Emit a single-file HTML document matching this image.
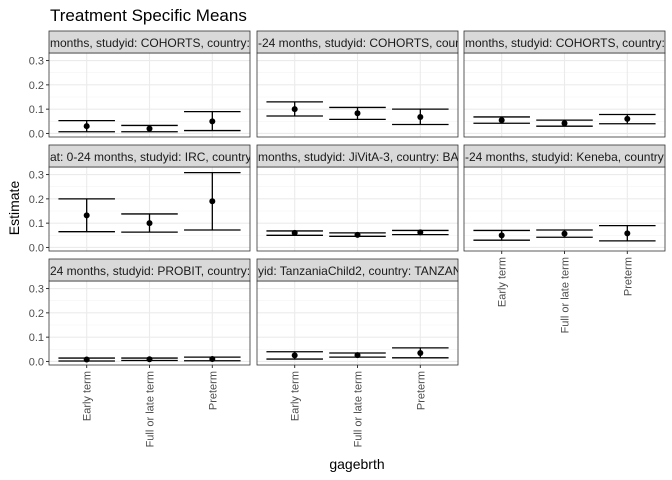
<!DOCTYPE html>
<html><head><meta charset="utf-8"><style>
body{margin:0;background:#fff;}
svg{display:block;font-family:"Liberation Sans",sans-serif;}
</style></head><body>
<svg id="c" width="672" height="480"></svg>
<script>
const categories=["Early term","Full or late term","Preterm"];
const stripLabels=["months, studyid: COHORTS, country: GUATEMALA","-24 months, studyid: COHORTS, country: INDIA","months, studyid: COHORTS, country: PHILIPPINES","at: 0-24 months, studyid: IRC, country: INDIA","months, studyid: JiVitA-3, country: BANGLADESH","-24 months, studyid: Keneba, country: GAMBIA","24 months, studyid: PROBIT, country: BELARUS","yid: TanzaniaChild2, country: TANZANIA"];
const est=[[0.03,0.02,0.05],[0.10,0.083,0.068],[0.055,0.042,0.06],[0.132,0.10,0.19],[0.06,0.052,0.062],[0.05,0.057,0.058],[0.008,0.009,0.01],[0.025,0.026,0.035]];
const lower=[[0.007,0.007,0.012],[0.072,0.058,0.037],[0.042,0.03,0.04],[0.065,0.063,0.072],[0.05,0.046,0.053],[0.03,0.042,0.027],[0.002,0.004,0.003],[0.01,0.018,0.015]];
const upper=[[0.053,0.033,0.09],[0.13,0.107,0.10],[0.068,0.055,0.078],[0.2,0.138,0.308],[0.068,0.06,0.07],[0.07,0.072,0.09],[0.014,0.014,0.018],[0.04,0.035,0.056]];
const yTicks=[0,0.1,0.2,0.3];
const yTickLabels=["0.0","0.1","0.2","0.3"];

const NS="http://www.w3.org/2000/svg";
const svg=document.getElementById('c');
function mk(t,a,p){const e=document.createElementNS(NS,t);for(const k in a)e.setAttribute(k,a[k]);(p||svg).appendChild(e);return e;}
const colX=[49,257,464], rowY=[53,167,281], PW=201, PH=84, SH=22;
const ymin=-0.0145,ymax=0.331;
function sy(r,v){return rowY[r]+PH-(v-ymin)/(ymax-ymin)*PH;}
function sx(c,i){return colX[c]+(i+1-0.4)/3.2*PW;}
const defs=mk('defs',{});
let t=mk('text',{x:50,y:21,'font-size':17,fill:'#000'});t.textContent="Treatment Specific Means";


for(let p=0;p<8;p++){
  const r=Math.floor(p/3),c=p%3;
  const g=mk('g',{});
  
  
  const x0=colX[c],y0=rowY[r];
  mk('rect',{x:x0,y:y0,width:PW,height:PH,fill:'#fff'},g);
  for(let k=0;k<yTicks.length;k++){
    mk('line',{x1:x0,x2:x0+PW,y1:sy(r,yTicks[k]),y2:sy(r,yTicks[k]),stroke:'#ebebeb','stroke-width':1.1},g);
    if(k<3)mk('line',{x1:x0,x2:x0+PW,y1:sy(r,yTicks[k]+0.05),y2:sy(r,yTicks[k]+0.05),stroke:'#f3f3f3','stroke-width':0.6},g);
  }
  for(let i=0;i<3;i++)mk('line',{x1:sx(c,i),x2:sx(c,i),y1:y0,y2:y0+PH,stroke:'#ebebeb','stroke-width':1.1},g);
  for(let i=0;i<3;i++){
    const bw=0.9/3.2*PW/2, cx=sx(c,i);
    const eb=mk('g',{stroke:'#000','stroke-width':1.3},g);
    
    
    mk('line',{x1:cx-bw,x2:cx+bw,y1:sy(r,upper[p][i]),y2:sy(r,upper[p][i])},eb);
    mk('line',{x1:cx-bw,x2:cx+bw,y1:sy(r,lower[p][i]),y2:sy(r,lower[p][i])},eb);
    mk('line',{x1:cx,x2:cx,y1:sy(r,upper[p][i]),y2:sy(r,lower[p][i])},eb);
    const pt=mk('circle',{cx:cx,cy:sy(r,est[p][i]),r:3,fill:'#000'},g);
    
    
  }
  mk('rect',{x:x0,y:y0,width:PW,height:PH,fill:'none',stroke:'#333','stroke-width':0.8},g);
  const cp=mk('clipPath',{id:'cp'+p},defs);mk('rect',{x:x0,y:y0-SH,width:PW,height:SH},cp);
  mk('rect',{x:x0,y:y0-SH,width:PW,height:SH,fill:'#d9d9d9',stroke:'#333','stroke-width':0.8},g);
  const st=mk('text',{x:x0+1,y:y0-6,'font-size':12,fill:'#1a1a1a','clip-path':'url(#cp'+p+')'},g);
  st.textContent=stripLabels[p];
  
  
  if(c===0){
    for(let k=0;k<yTicks.length;k++){
      const yy=sy(r,yTicks[k]);
      mk('line',{x1:x0-3,x2:x0,y1:yy,y2:yy,stroke:'#333'},svg);
      const tl=mk('text',{x:x0-5,y:yy+4,'font-size':11,fill:'#4d4d4d','text-anchor':'end'});
      tl.textContent=yTickLabels[k];
      
      
    }
  }
  if(p>=5){
    for(let i=0;i<3;i++){
      const cx=sx(c,i),yb=y0+PH;
      mk('line',{x1:cx,x2:cx,y1:yb,y2:yb+3,stroke:'#333'},svg);
      const xl=mk('text',{x:0,y:0,'font-size':11,fill:'#4d4d4d','text-anchor':'end',transform:`translate(${cx+4},${yb+6}) rotate(-90)`});
      xl.textContent=categories[i];
      
      
    }
  }
}
t=mk('text',{x:357,y:469,'font-size':14,fill:'#000','text-anchor':'middle'});t.textContent="gagebrth";


t=mk('text',{x:0,y:0,'font-size':14,fill:'#000','text-anchor':'middle',transform:'translate(19,208) rotate(-90)'});t.textContent="Estimate";


</script>
</body></html>
